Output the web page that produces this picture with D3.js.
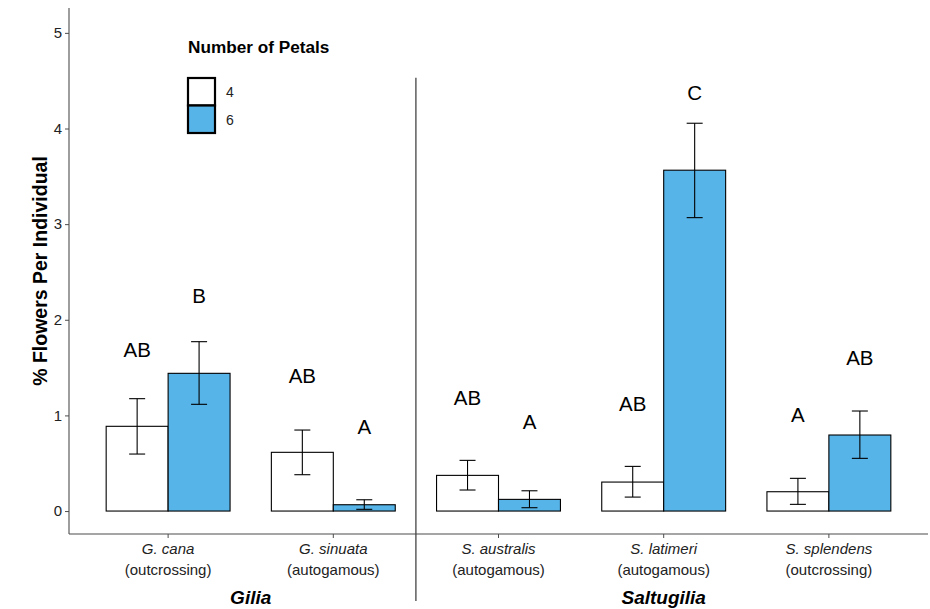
<!DOCTYPE html>
<html>
<head>
<meta charset="utf-8">
<script src="https://cdnjs.cloudflare.com/ajax/libs/d3/7.8.5/d3.min.js"></script>
<style>
  body { margin: 0; background: #fff; }
  text { font-family: "Liberation Sans", Arial, Helvetica, sans-serif; }
</style>
</head>
<body>
<script>
var width = 930;
var height = 609;

// data
var species = ["G. cana", "G. sinuata", "S. australis", "S. latimeri", "S. splendens"];
var breeding = ["(outcrossing)", "(autogamous)", "(autogamous)", "(autogamous)", "(outcrossing)"];
var petals = ["4", "6"];
var mean4 = [0.886, 0.614, 0.373, 0.303, 0.202];
var mean6 = [1.44, 0.066, 0.122, 3.564, 0.795];
var lo4 = [0.596, 0.38, 0.22, 0.146, 0.07];
var hi4 = [1.175, 0.847, 0.53, 0.467, 0.342];
var lo6 = [1.116, 0.018, 0.035, 3.068, 0.551];
var hi6 = [1.771, 0.118, 0.212, 4.055, 1.046];
var letters4 = ["AB", "AB", "AB", "AB", "A"];
var letters6 = ["B", "A", "A", "C", "AB"];
var letterY4 = [1.69, 1.42, 1.19, 1.12, 1.01];
var letterY6 = [2.25, 0.88, 0.93, 4.37, 1.60];
var genera = ["Gilia", "Saltugilia"];
var yTicks = [0, 1, 2, 3, 4, 5];
var dividerTop = 4.53;

var fills = { "4": "#ffffff", "6": "#56B4E9" };
var axisColor = "#4d4d4d";

var rows = [];
species.forEach(function(s, i) {
    rows.push({ sp: s, petal: "4", mean: mean4[i], lo: lo4[i], hi: hi4[i], letter: letters4[i], ly: letterY4[i] });
    rows.push({ sp: s, petal: "6", mean: mean6[i], lo: lo6[i], hi: hi6[i], letter: letters6[i], ly: letterY6[i] });
});

var svg = d3.select("body").append("svg")
    .attr("width", width)
    .attr("height", height);

var x = d3.scaleBand()
    .domain(species)
    .range([69, 928])
    .paddingInner(0.25)
    .paddingOuter(0.225);

var xInner = d3.scaleBand()
    .domain(petals)
    .range([0, x.bandwidth()]);

var y = d3.scaleLinear()
    .domain([-0.24, 5.26])
    .range([534, 8]);

// bars
svg.append("g").selectAll("rect")
    .data(rows)
    .enter().append("rect")
    .attr("x", function(d) { return x(d.sp) + xInner(d.petal); })
    .attr("y", function(d) { return y(d.mean); })
    .attr("width", xInner.bandwidth())
    .attr("height", function(d) { return y(0) - y(d.mean); })
    .attr("fill", function(d) { return fills[d.petal]; })
    .attr("stroke", "#000")
    .attr("stroke-width", 1.1);

// error bars
var eb = svg.append("g").attr("stroke", "#000").attr("stroke-width", 1.1);
rows.forEach(function(d) {
    var cx = x(d.sp) + xInner(d.petal) + xInner.bandwidth() / 2;
    eb.append("line").attr("x1", cx).attr("x2", cx).attr("y1", y(d.lo)).attr("y2", y(d.hi));
    eb.append("line").attr("x1", cx - 8).attr("x2", cx + 8).attr("y1", y(d.lo)).attr("y2", y(d.lo));
    eb.append("line").attr("x1", cx - 8).attr("x2", cx + 8).attr("y1", y(d.hi)).attr("y2", y(d.hi));
});

// significance letters
svg.append("g").selectAll("text")
    .data(rows)
    .enter().append("text")
    .attr("x", function(d) { return x(d.sp) + xInner(d.petal) + xInner.bandwidth() / 2; })
    .attr("y", function(d) { return y(d.ly); })
    .attr("dy", "0.36em")
    .attr("text-anchor", "middle")
    .attr("font-size", 20.5)
    .attr("fill", "#000")
    .text(function(d) { return d.letter; });

// y axis
var yAxis = svg.append("g")
    .attr("transform", "translate(69,0)")
    .call(d3.axisLeft(y).tickValues(yTicks).tickSize(4).tickPadding(3).tickFormat(d3.format("d")));
yAxis.select(".domain").attr("stroke", axisColor).attr("stroke-width", 1.1)
    .attr("d", "M0," + y(5.26) + "V" + y(-0.24));
yAxis.selectAll(".tick line").attr("stroke", axisColor);
yAxis.selectAll(".tick text").attr("font-size", 15).attr("fill", "#222")
    .style("font-family", "Liberation Sans, Arial, sans-serif");

// x axis
var xAxis = svg.append("g")
    .attr("transform", "translate(0," + y(-0.24) + ")")
    .call(d3.axisBottom(x).tickSize(4).tickFormat(""));
xAxis.select(".domain").attr("stroke", axisColor).attr("stroke-width", 1.1)
    .attr("d", "M69,0H928");
xAxis.selectAll(".tick line").attr("stroke", axisColor);

var xl = svg.append("g");
species.forEach(function(s, i) {
    var cx = x(s) + x.bandwidth() / 2;
    xl.append("text").attr("x", cx).attr("y", 554).attr("text-anchor", "middle")
        .attr("font-size", 15).attr("font-style", "italic").attr("fill", "#222").text(s);
    xl.append("text").attr("x", cx).attr("y", 574.5).attr("text-anchor", "middle")
        .attr("font-size", 15).attr("fill", "#222").text(breeding[i]);
});

// genus labels under each group
var genusCenters = [
    (x(species[0]) + x(species[1]) + x.bandwidth()) / 2,
    (x(species[2]) + x(species[4]) + x.bandwidth()) / 2
];
genera.forEach(function(g, i) {
    svg.append("text").attr("x", genusCenters[i]).attr("y", 603.5)
        .attr("text-anchor", "middle").attr("font-size", 19)
        .attr("font-weight", "bold").attr("font-style", "italic").attr("fill", "#000").text(g);
});

// divider between genera
var divX = (x(species[1]) + x.bandwidth() + x(species[2])) / 2;
svg.append("line")
    .attr("x1", divX).attr("x2", divX)
    .attr("y1", y(dividerTop)).attr("y2", 601)
    .attr("stroke", "#444").attr("stroke-width", 1.3);

// y title
svg.append("text")
    .attr("transform", "translate(47," + ((y(5.26) + y(-0.24)) / 2) + ") rotate(-90)")
    .attr("text-anchor", "middle")
    .attr("font-size", 19.5)
    .attr("font-weight", "bold")
    .attr("fill", "#000")
    .text("% Flowers Per Individual");

// legend
var legend = svg.append("g").attr("transform", "translate(188,0)");
legend.append("text").attr("x", 0).attr("y", 53).attr("font-size", 17.2)
    .attr("font-weight", "bold").attr("fill", "#000").text("Number of Petals");
petals.forEach(function(p, i) {
    legend.append("rect")
        .attr("x", 0).attr("y", 78 + i * 27.5)
        .attr("width", 27).attr("height", 27.5)
        .attr("fill", fills[p]).attr("stroke", "#000").attr("stroke-width", 2.2);
    legend.append("text").attr("x", 38).attr("y", 92 + i * 28).attr("dy", "0.36em")
        .attr("font-size", 14).attr("fill", "#222").text(p);
});
</script>
</body>
</html>
